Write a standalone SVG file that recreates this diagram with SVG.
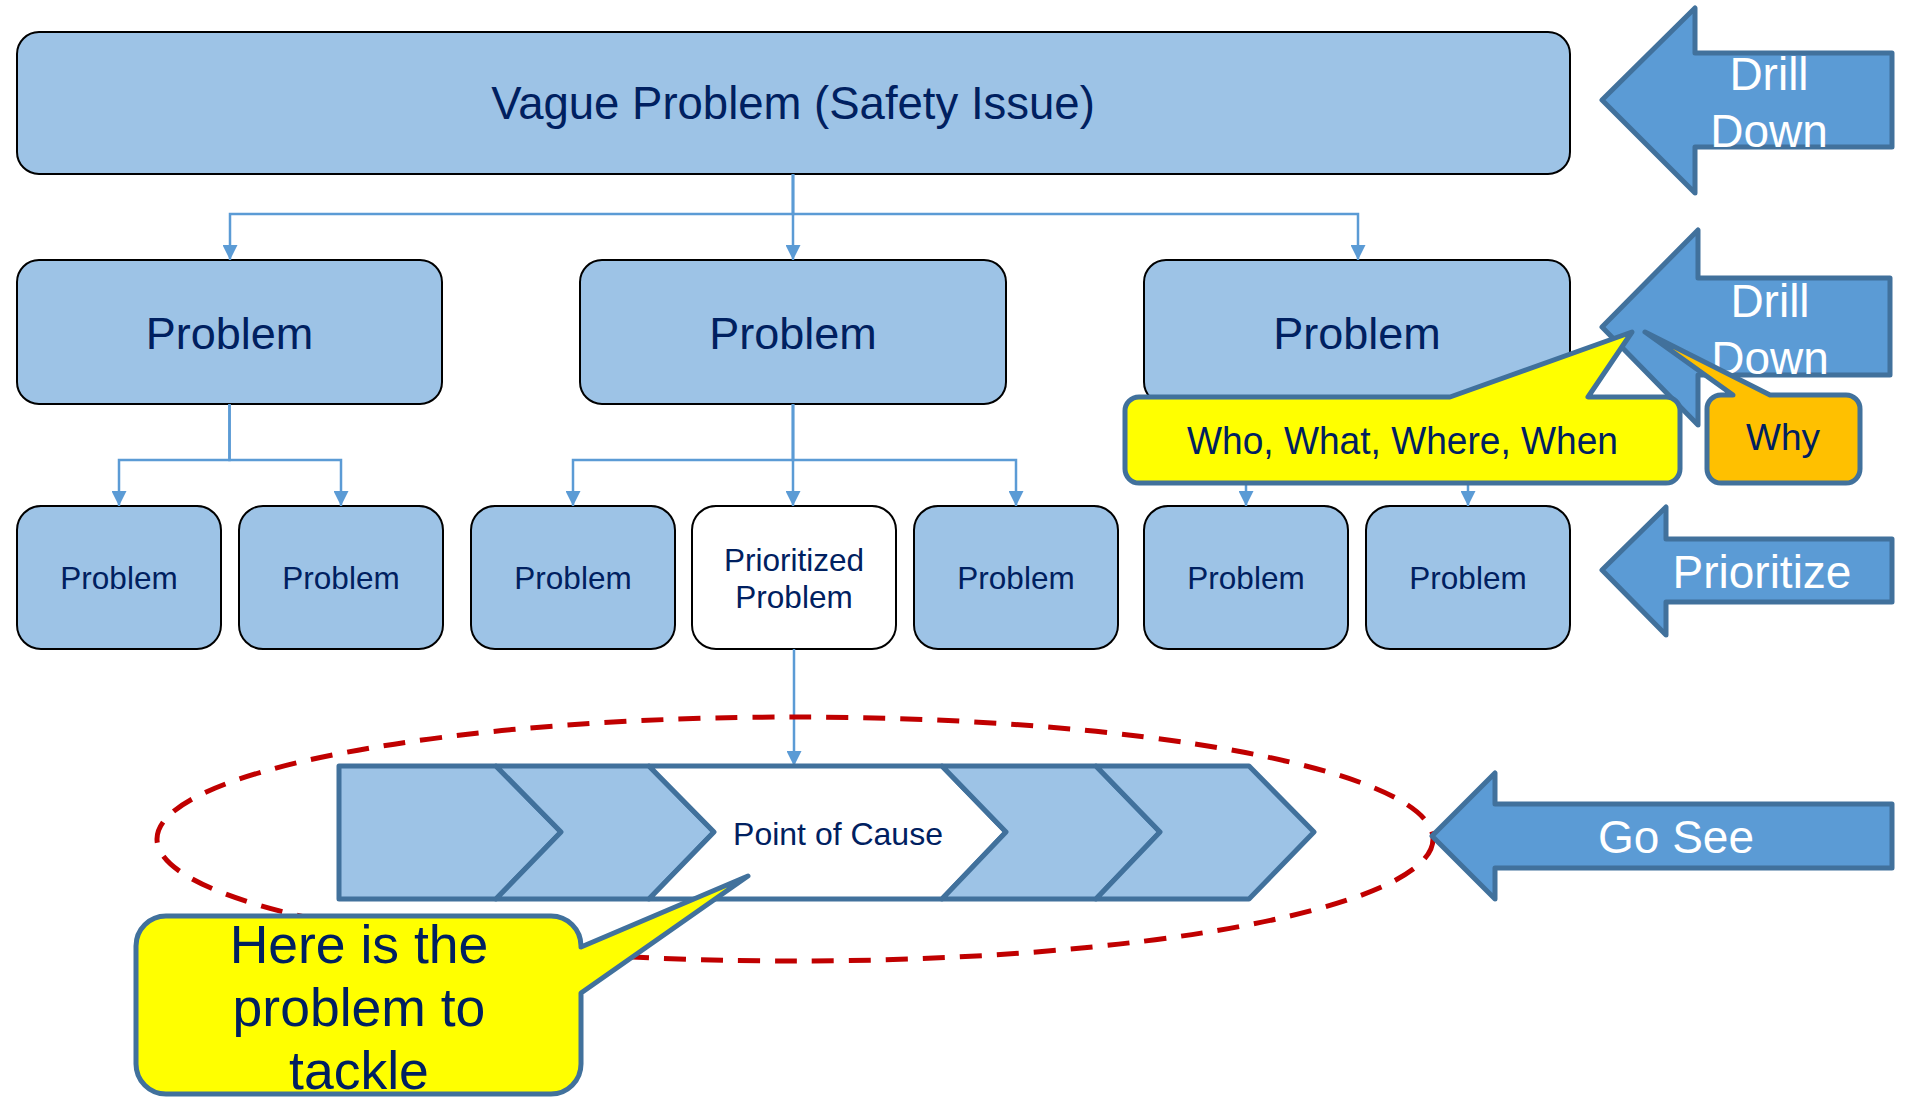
<svg xmlns="http://www.w3.org/2000/svg" width="1908" height="1098" viewBox="0 0 1908 1098">
  <defs>
    <marker id="tri" markerUnits="userSpaceOnUse" markerWidth="15" markerHeight="15" refX="15" refY="7.5" orient="auto">
      <path d="M0,0 L15,7.5 L0,15 Z" fill="#5B9BD5"/>
    </marker>
    <style>
      .box { fill: #9DC3E6; stroke: #000; stroke-width: 2; }
      .box-w { fill: #FFFFFF; stroke: #000; stroke-width: 2; }
      .lbl { font-family: "Liberation Sans", Arial, sans-serif; fill: #002060; text-anchor: middle; }
      .conn { fill: none; stroke: #5B9BD5; stroke-width: 2.5; marker-end: url(#tri); }
      .step { fill: #5B9BD5; stroke: #41719C; stroke-width: 5; stroke-linejoin: round; }
      .step-t { font-family: "Liberation Sans", Arial, sans-serif; fill: #FFFFFF; font-size: 46px; text-anchor: middle; }
      .chev { fill: #9DC3E6; stroke: #41719C; stroke-width: 5; stroke-linejoin: round; }
      .note { stroke: #41719C; stroke-width: 5; stroke-linejoin: round; }
    </style>
  </defs>

  <!-- top level -->
  <g id="vague">
    <rect class="box" x="17" y="32" width="1553" height="142" rx="22"/>
    <text class="lbl" x="793" y="119" font-size="45.5">Vague Problem (Safety Issue)</text>
  </g>

  <!-- second level -->
  <g id="p1">
    <rect class="box" x="17" y="260" width="425" height="144" rx="22"/>
    <text class="lbl" x="229.5" y="349" font-size="45">Problem</text>
  </g>
  <g id="p2">
    <rect class="box" x="580" y="260" width="426" height="144" rx="22"/>
    <text class="lbl" x="793" y="349" font-size="45">Problem</text>
  </g>
  <g id="p3">
    <rect class="box" x="1144" y="260" width="426" height="144" rx="22"/>
    <text class="lbl" x="1357" y="349" font-size="45">Problem</text>
  </g>

  <!-- third level -->
  <g id="p1a">
    <rect class="box" x="17" y="506" width="204" height="143" rx="24"/>
    <text class="lbl" x="119" y="589" font-size="31.5">Problem</text>
  </g>
  <g id="p1b">
    <rect class="box" x="239" y="506" width="204" height="143" rx="24"/>
    <text class="lbl" x="341" y="589" font-size="31.5">Problem</text>
  </g>
  <g id="p2a">
    <rect class="box" x="471" y="506" width="204" height="143" rx="24"/>
    <text class="lbl" x="573" y="589" font-size="31.5">Problem</text>
  </g>
  <g id="p2b">
    <rect class="box-w" x="692" y="506" width="204" height="143" rx="24"/>
    <text class="lbl" x="794" y="571" font-size="31.5">Prioritized</text>
    <text class="lbl" x="794" y="608" font-size="31.5">Problem</text>
  </g>
  <g id="p2c">
    <rect class="box" x="914" y="506" width="204" height="143" rx="24"/>
    <text class="lbl" x="1016" y="589" font-size="31.5">Problem</text>
  </g>
  <g id="p3a">
    <rect class="box" x="1144" y="506" width="204" height="143" rx="24"/>
    <text class="lbl" x="1246" y="589" font-size="31.5">Problem</text>
  </g>
  <g id="p3b">
    <rect class="box" x="1366" y="506" width="204" height="143" rx="24"/>
    <text class="lbl" x="1468" y="589" font-size="31.5">Problem</text>
  </g>

  <!-- connectors -->
  <g id="connectors">
    <path class="conn" d="M793,174 V214 H230 V260"/>
    <path class="conn" d="M793,174 V260"/>
    <path class="conn" d="M793,174 V214 H1358 V260"/>
    <path class="conn" d="M229.5,404 V460 H119 V506"/>
    <path class="conn" d="M229.5,404 V460 H341 V506"/>
    <path class="conn" d="M793,404 V460 H573 V506"/>
    <path class="conn" d="M793,404 V506"/>
    <path class="conn" d="M793,404 V460 H1016 V506"/>
    <path class="conn" d="M1357,404 V460 H1246 V506"/>
    <path class="conn" d="M1357,404 V460 H1468 V506"/>
    <path class="conn" d="M794,649 V766"/>
  </g>

  <!-- dashed focus ring -->
  <ellipse cx="795" cy="839" rx="638" ry="122" fill="none" stroke="#C00000" stroke-width="5" stroke-dasharray="22 15"/>

  <!-- process chevrons -->
  <g id="process">
    <path class="chev" d="M339,766 H496 L561,832 L496,899 H339 Z"/>
    <path class="chev" d="M496,766 H649 L714,832 L649,899 H496 L561,832 Z"/>
    <path class="chev" style="fill:#FFFFFF" d="M649,766 H942 L1006,832 L942,899 H649 L714,832 Z"/>
    <path class="chev" d="M942,766 H1096 L1160,832 L1096,899 H942 L1006,832 Z"/>
    <path class="chev" d="M1096,766 H1249 L1314,832 L1249,899 H1096 L1160,832 Z"/>
    <text class="lbl" x="838" y="845" font-size="32">Point of Cause</text>
  </g>

  <!-- step arrows -->
  <g id="drill1">
    <path class="step" d="M1602,100 L1695,8 V53 H1892 V147 H1695 V193 Z"/>
    <text class="step-t" x="1769" y="90">Drill</text>
    <text class="step-t" x="1769" y="147">Down</text>
  </g>
  <g id="drill2">
    <path class="step" d="M1602,327 L1698,230 V278 H1890 V375 H1698 V425 Z"/>
    <text class="step-t" x="1770" y="317">Drill</text>
    <text class="step-t" x="1770" y="374">Down</text>
  </g>
  <g id="prioritize">
    <path class="step" d="M1602,570 L1666,507 V539 H1892 V602 H1666 V635 Z"/>
    <text class="step-t" x="1762" y="588" font-size="47">Prioritize</text>
  </g>
  <g id="gosee">
    <path class="step" d="M1432,836 L1495,773 V804 H1892 V868 H1495 V899 Z"/>
    <text class="step-t" x="1676" y="853">Go See</text>
  </g>

  <!-- callouts -->
  <g id="who">
    <path class="note" fill="#FFFF00" d="M1139,397 H1450 L1632,332 L1588,397 H1666 A14,14 0 0 1 1680,411 V469 A14,14 0 0 1 1666,483 H1139 A14,14 0 0 1 1125,469 V411 A14,14 0 0 1 1139,397 Z"/>
    <text class="lbl" x="1402.5" y="454" font-size="39" textLength="431" lengthAdjust="spacingAndGlyphs">Who, What, Where, When</text>
  </g>
  <g id="why">
    <path class="note" fill="#FFC000" d="M1721,395 H1733 L1645,332 L1770,395 H1846 A14,14 0 0 1 1860,409 V469 A14,14 0 0 1 1846,483 H1721 A14,14 0 0 1 1707,469 V409 A14,14 0 0 1 1721,395 Z"/>
    <text class="lbl" x="1783" y="450" font-size="37">Why</text>
  </g>
  <g id="here">
    <path class="note" fill="#FFFF00" d="M166,916 H551 A30,30 0 0 1 581,946 V947 L748,876 L581,993 V1064 A30,30 0 0 1 551,1094 H166 A30,30 0 0 1 136,1064 V946 A30,30 0 0 1 166,916 Z"/>
    <text class="lbl" x="359" y="963" font-size="53.5">Here is the</text>
    <text class="lbl" x="359" y="1026" font-size="53.5">problem to</text>
    <text class="lbl" x="359" y="1089" font-size="53.5">tackle</text>
  </g>
</svg>
